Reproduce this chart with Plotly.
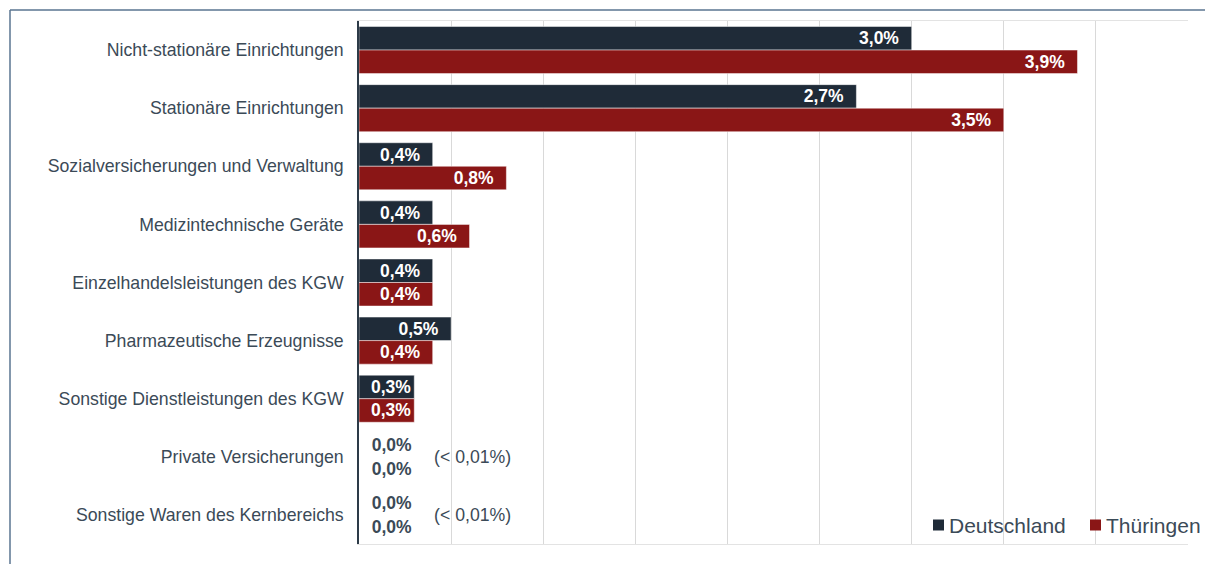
import plotly.graph_objects as go

# Categories (top to bottom) and shares in percent
categories = [
    "Nicht-stationäre Einrichtungen",
    "Stationäre Einrichtungen",
    "Sozialversicherungen und Verwaltung",
    "Medizintechnische Geräte",
    "Einzelhandelsleistungen des KGW",
    "Pharmazeutische Erzeugnisse",
    "Sonstige Dienstleistungen des KGW",
    "Private Versicherungen",
    "Sonstige Waren des Kernbereichs",
]
series_names = ["Deutschland", "Thüringen"]
deutschland = [3.0, 2.7, 0.4, 0.4, 0.4, 0.5, 0.3, 0.0, 0.0]
thueringen = [3.9, 3.5, 0.8, 0.6, 0.4, 0.4, 0.3, 0.0, 0.0]
tiny_note = "(< 0,01%)"

NAVY = "#1f2b38"
RED = "#8a1616"
TEXT = "#3b4a57"
FONT = "Arial, 'Liberation Sans', sans-serif"
NB = "\u00a0"

W, H = 1205, 564
L, R, T, B = 359, 17, 21, 20
PW, PH = W - L - R, H - T - B


def px_x(p):
    return (p - L) / PW


def px_y(p):
    return (H - B - p) / PH


def label_setup(values):
    """Value labels inside the bar end; zero bars get a dark label beside the axis."""
    templates, positions = [], []
    for v in values:
        if v == 0:
            templates.append(NB * 2 + "%{x:.1f}%")
            positions.append("outside")
        else:
            pad = NB * 2 if v >= 0.4 else ""
            templates.append("%{x:.1f}%" + pad)
            positions.append("inside")
    return templates, positions


colors = [NAVY, RED]
fig = go.Figure()
for name, vals, color in zip(series_names, [deutschland, thueringen], colors):
    tmpl, pos = label_setup(vals)
    fig.add_trace(go.Bar(
        name=name,
        y=categories,
        x=vals,
        orientation="h",
        marker=dict(color=color, line=dict(color="rgba(255,255,255,0.6)", width=0.8)),
        texttemplate=tmpl,
        textposition=pos,
        insidetextanchor="end",
        insidetextfont=dict(color="white", size=17.5, family=FONT, weight="bold"),
        outsidetextfont=dict(color=TEXT, size=17.5, family=FONT, weight="bold"),
        constraintext="none",
        cliponaxis=False,
        hoverinfo="skip",
        showlegend=False,
    ))

# Notes next to the rounded-to-zero categories
for cat, d, t in zip(categories, deutschland, thueringen):
    if d == 0 and t == 0:
        fig.add_annotation(
            x=0.395, y=cat, xref="x", yref="y", text=tiny_note,
            showarrow=False, xanchor="left", yanchor="middle",
            font=dict(size=17.7, color=TEXT, family=FONT),
        )

# Legend: square swatch + series name, bottom right
legend_y = 525
for name, color, sq_left in zip(series_names, colors, [933, 1090]):
    fig.add_shape(type="rect", xref="paper", yref="paper",
                  x0=px_x(sq_left), x1=px_x(sq_left + 11),
                  y0=px_y(legend_y - 5.5), y1=px_y(legend_y + 5.5),
                  fillcolor=color, line=dict(width=0))
    fig.add_annotation(x=px_x(sq_left + 14), y=px_y(legend_y), xref="paper", yref="paper",
                       text=name, showarrow=False, xanchor="left", yanchor="middle",
                       font=dict(size=21, color=TEXT, family=FONT))

# Outer frame lines (top and left)
frame = "#5a7590"
fig.add_shape(type="line", xref="paper", yref="paper",
              x0=px_x(10), y0=px_y(10), x1=px_x(W + 5), y1=px_y(10),
              line=dict(color=frame, width=1.5))
fig.add_shape(type="line", xref="paper", yref="paper",
              x0=px_x(10), y0=px_y(10), x1=px_x(10), y1=px_y(H + 5),
              line=dict(color=frame, width=1.5))

fig.update_layout(
    width=W, height=H,
    margin=dict(l=L, r=R, t=T, b=B, pad=0),
    paper_bgcolor="white", plot_bgcolor="white",
    separators=",.",
    barmode="group", bargap=0.19, bargroupgap=0,
    font=dict(family=FONT, color=TEXT, size=17.5),
    showlegend=False,
    xaxis=dict(
        range=[0, 4.5], dtick=0.5, showticklabels=False, ticks="",
        showgrid=True, gridcolor="#d9d9d9", gridwidth=1,
        zeroline=False, showline=True, linecolor="#e3e3e3", linewidth=1, mirror=True,
        automargin=False,
    ),
    yaxis=dict(
        autorange="reversed", showline=True, linecolor="#2d3b48", linewidth=1.5,
        ticks="", ticklabelstandoff=10, tickfont=dict(size=17.7, color=TEXT, family=FONT),
        showgrid=False, automargin=False,
    ),
)

fig.write_html("out.html")
